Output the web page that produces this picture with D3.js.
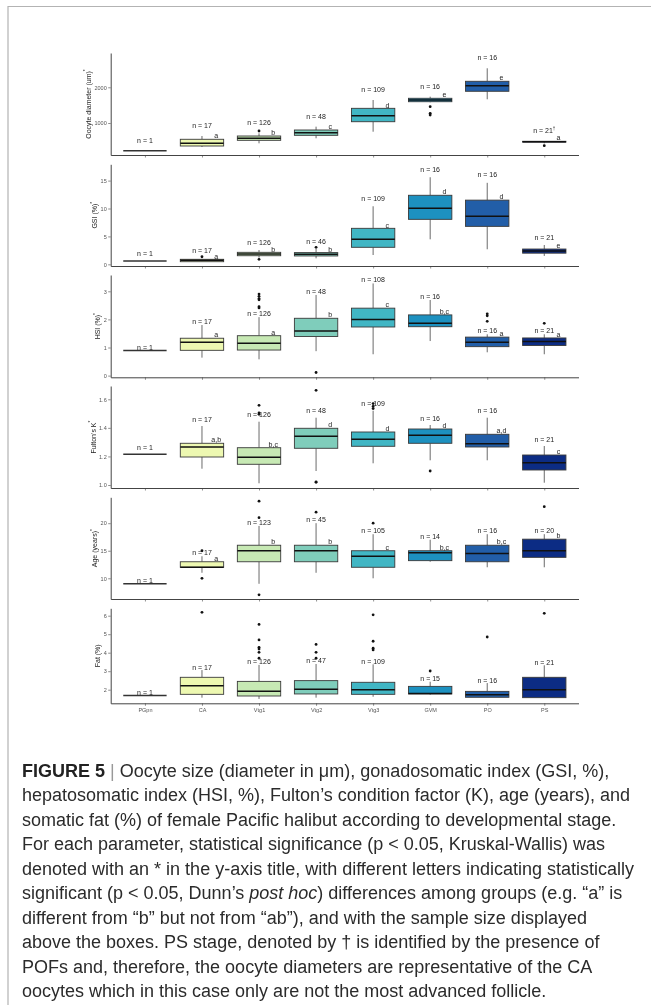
<!DOCTYPE html>
<html>
<head>
<meta charset="utf-8">
<script src="https://cdn.jsdelivr.net/npm/d3@7"></script>
<style>
  body { margin: 0; background: #fff; }
  svg { display: block; font-family: "Liberation Sans", Arial, sans-serif; will-change: transform; }
</style>
</head>
<body>
<svg id="fig" width="651" height="1005"></svg>
<script>
// stages and fill colours (YlGnBu-like)
const stages = ["PGpn", "CA", "Vtg1", "Vtg2", "Vtg3", "GVM", "PO", "PS"];
const fills = ["#FFFFD9", "#EDF8B1", "#C7E9B4", "#7FCDBB", "#41B6C4", "#1D91C0", "#225EA8", "#0C2C84"];

// each box: [lower whisker, Q1, median, Q3, upper whisker]
const oocyteStats = [[224,224,224,224,224],[328,356,432,544,636],[431,515,572,636,711],[572,655,728,804,897],
  [756,1036,1204,1411,1644],[1580,1596,1644,1692,1737],[1664,1888,2044,2168,2532],[430,465,476,488,495]];
const oocyteOut = [[],[],[776],[],[],[1456,1270,1224],[],[364]];
const oocyteN = [1, 17, 126, 48, 109, 16, 16, 21];
const oocyteLetters = ["", "a", "b", "c", "d", "e", "e", "a"];

const gsiStats = [[0.59,0.59,0.59,0.59,0.59],[0.42,0.47,0.72,0.9,0.98],[1.2,1.54,1.85,2.15,2.56],[1.07,1.5,1.8,2.1,2.74],
  [1.67,3.05,4.48,6.45,10.4],[4.48,8.06,10.04,12.37,15.6],[2.7,6.8,8.6,11.5,14.6],[1.5,2.0,2.38,2.74,3.46]];
const gsiOut = [[],[1.36],[0.9],[3.05],[],[],[],[]];
const gsiN = [1, 17, 126, 46, 109, 16, 16, 21];
const gsiLetters = ["", "a", "b", "b", "c", "d", "d", "e"];

const hsiStats = [[0.89,0.89,0.89,0.89,0.89],[0.64,0.90,1.19,1.33,1.80],[0.58,0.91,1.15,1.42,2.08],[0.87,1.39,1.59,2.04,2.87],
  [0.76,1.73,2.0,2.40,3.28],[1.23,1.74,1.86,2.16,2.69],[0.83,1.03,1.19,1.37,1.47],[0.76,1.07,1.21,1.34,1.47]];
const hsiOut = [[],[],[2.90,2.82,2.74,2.70,2.45,2.41],[0.11],[],[],[2.20,2.13,1.93],[1.86]];
const hsiN = [1, 17, 126, 48, 108, 16, 16, 21];
const hsiLetters = ["", "a", "a", "b", "c", "b,c", "a", "a"];

const kStats = [[1.215,1.215,1.215,1.215,1.215],[1.114,1.196,1.266,1.292,1.413],[1.012,1.145,1.194,1.261,1.443],[1.098,1.257,1.341,1.397,1.471],
  [1.152,1.271,1.320,1.371,1.52],[1.173,1.292,1.348,1.392,1.42],[1.173,1.266,1.289,1.355,1.471],[1.016,1.105,1.156,1.21,1.273]];
const kOut = [[],[],[1.558,1.504,1.495],[1.663,1.019,1.022],[1.535,1.55,1.57],[1.098],[],[]];
const kN = [1, 17, 126, 48, 109, 16, 16, 21];
const kLetters = ["", "a,b", "b,c", "d", "d", "d", "a,d", "c"];

const ageStats = [[9,9,9,9,9],[11,12,12,13,14],[9,13,15,16,19.5],[11,13,15,16,20],
  [10,12,14,15,18],[13,13.2,14.65,15,17],[12,13,14.5,16,18],[12,13.8,15,17.1,18]];
const ageOut = [[],[15,10],[21,24,7],[22],[20],[],[],[23]];
const ageN = [1, 17, 123, 45, 105, 14, 16, 20];
const ageLetters = ["", "a", "b", "b", "c", "b,c", "b,c", "b"];

const fatStats = [[1.68,1.68,1.68,1.68,1.68],[1.57,1.75,2.22,2.67,3.06],[1.5,1.66,1.91,2.45,3.34],[1.57,1.77,2.02,2.49,3.39],
  [1.62,1.75,2.0,2.40,3.37],[1.73,1.77,1.8,2.18,2.43],[1.59,1.59,1.73,1.91,2.36],[1.57,1.57,2.0,2.67,3.32]];
const fatOut = [[],[6.18],[5.53,4.69,4.29,4.2,4.02,3.70],[4.45,4.02,3.70],[6.05,4.62,4.24,4.15],[3.01],[4.85],[6.13]];
const fatN = [1, 17, 126, 47, 109, 15, 16, 21];
const fatLetters = ["", "", "", "", "", "", "", ""];

const captionLines = [
  "Oocyte size (diameter in \u03bcm), gonadosomatic index (GSI, %),",
  "hepatosomatic index (HSI, %), Fulton\u2019s condition factor (K), age (years), and",
  "somatic fat (%) of female Pacific halibut according to developmental stage.",
  "For each parameter, statistical significance (p < 0.05, Kruskal-Wallis) was",
  "denoted with an * in the y-axis title, with different letters indicating statistically",
  "significant (p < 0.05, Dunn\u2019s |post hoc|) differences among groups (e.g. \u201ca\u201d is",
  "different from \u201cb\u201d but not from \u201cab\u201d), and with the sample size displayed",
  "above the boxes. PS stage, denoted by \u2020 is identified by the presence of",
  "POFs and, therefore, the oocyte diameters are representative of the CA",
  "oocytes which in this case only are not the most advanced follicle."
];

// panel layout table built from the arrays above
const panels = [
  { title: "Oocyte diameter (um)", star: true, stats: oocyteStats, out: oocyteOut, n: oocyteN, letters: oocyteLetters,
    domain: [104, 2960], ticks: [1000, 2000], fmt: d3.format("d"), top: 53, bottom: 155, nOff: 10.5, dagger: true },
  { title: "GSI (%)", star: true, stats: gsiStats, out: gsiOut, n: gsiN, letters: gsiLetters,
    domain: [-0.3, 17.92], ticks: [0, 5, 10, 15], fmt: d3.format("d"), top: 164.3, bottom: 266, nOff: 8 },
  { title: "HSI (%)", star: true, stats: hsiStats, out: hsiOut, n: hsiN, letters: hsiLetters,
    domain: [-0.06, 3.58], ticks: [0, 1, 2, 3], fmt: d3.format("d"), top: 275, bottom: 377.3, nOff: 3.6 },
  { title: "Fulton\u2019s K", star: true, stats: kStats, out: kOut, n: kN, letters: kLetters,
    domain: [0.979, 1.693], ticks: [1.0, 1.2, 1.4, 1.6], fmt: d3.format(".1f"), top: 386, bottom: 488, nOff: 7 },
  { title: "Age (years)", star: true, stats: ageStats, out: ageOut, n: ageN, letters: ageLetters,
    domain: [6.24, 24.7], ticks: [10, 15, 20], fmt: d3.format("d"), top: 497.3, bottom: 599, nOff: 3.4 },
  { title: "Fat (%)", star: false, stats: fatStats, out: fatOut, n: fatN, letters: fatLetters,
    domain: [1.265, 6.4], ticks: [2, 3, 4, 5, 6], fmt: d3.format("d"), top: 608.3, bottom: 703.3, nOff: 3, xLabels: true }
];

const svg = d3.select("#fig");

// page frame
svg.append("line").attr("x1", 8).attr("x2", 651).attr("y1", 6.5).attr("y2", 6.5)
  .attr("stroke", "#b3b3b3").attr("stroke-width", 1.2);
svg.append("line").attr("x1", 8).attr("x2", 8).attr("y1", 6).attr("y2", 1005)
  .attr("stroke", "#b3b3b3").attr("stroke-width", 1.2);

const x = d3.scalePoint().domain(stages).range([110.7, 578.5]).padding(0.6);
const boxW = x.step() * 0.76;

panels.forEach((p) => {
  const y = d3.scaleLinear().domain(p.domain).range([p.bottom, p.top]);
  const g = svg.append("g");

  // y axis
  const ya = g.append("g").attr("transform", "translate(110.7,0)")
    .call(d3.axisLeft(y).tickValues(p.ticks).tickFormat(p.fmt).tickSize(2.5).tickSizeOuter(0).tickPadding(1.5));
  ya.select(".domain").attr("stroke", "#444").attr("stroke-width", 1);
  ya.selectAll(".tick line").attr("stroke", "#444").attr("stroke-width", 0.6);
  ya.selectAll(".tick text").attr("fill", "#555").style("font-size", "5.5px").style("font-family", "Liberation Sans, Arial, sans-serif");

  // x axis
  const xa = g.append("g").attr("transform", `translate(0,${p.bottom})`)
    .call(d3.axisBottom(x).tickSize(2.5).tickSizeOuter(0).tickPadding(2.5));
  xa.select(".domain").attr("stroke", "#444").attr("stroke-width", 1);
  xa.selectAll(".tick line").attr("stroke", "#444").attr("stroke-width", 0.6);
  xa.selectAll(".tick text").attr("fill", "#555").style("font-size", "5.5px").style("font-family", "Liberation Sans, Arial, sans-serif")
    .text((d) => (p.xLabels ? d : ""));

  // y title, placed left of the widest tick label
  let maxW = 0;
  ya.selectAll(".tick text").each(function () { maxW = Math.max(maxW, this.getComputedTextLength()); });
  const tx = 110.7 - 4 - maxW - 6;
  const ty = (p.top + p.bottom) / 2;
  const title = g.append("text").attr("transform", `translate(${tx},${ty}) rotate(-90)`)
    .attr("text-anchor", "middle").attr("dominant-baseline", "central")
    .attr("fill", "#222").style("font-size", "7px").text(p.title);
  if (p.star) title.append("tspan").attr("baseline-shift", "super").style("font-size", "5px").text("*");

  const boxes = g.append("g").selectAll("g").data(p.stats).join("g")
    .attr("transform", (d, i) => `translate(${x(stages[i])},0)`);

  // whiskers
  boxes.append("line").attr("y1", (d) => y(d[0])).attr("y2", (d) => y(d[1]))
    .attr("stroke", "#444").attr("stroke-width", 0.8);
  boxes.append("line").attr("y1", (d) => y(d[3])).attr("y2", (d) => y(d[4]))
    .attr("stroke", "#444").attr("stroke-width", 0.8);

  // box
  boxes.append("rect").attr("x", -boxW / 2).attr("width", boxW)
    .attr("y", (d) => y(d[3])).attr("height", (d) => y(d[1]) - y(d[3]))
    .attr("fill", (d, i) => fills[i]).attr("stroke", "#3a3a3a").attr("stroke-width", 0.9);

  // median
  boxes.append("line").attr("x1", -boxW / 2).attr("x2", boxW / 2)
    .attr("y1", (d) => y(d[2])).attr("y2", (d) => y(d[2]))
    .attr("stroke", (d, i) => (i === 0 ? "#333" : "#111")).attr("stroke-width", 1.5);

  // outliers
  boxes.each(function (d, i) {
    d3.select(this).selectAll("circle").data(p.out[i]).join("circle")
      .attr("cy", (v) => y(v)).attr("r", 1.4).attr("fill", "#111");
  });

  // sample size labels
  const nl = boxes.append("text").attr("y", (d) => y(d[4]) - p.nOff)
    .attr("text-anchor", "middle").attr("dominant-baseline", "central")
    .attr("fill", "#222").style("font-size", "7px")
    .text((d, i) => "n = " + p.n[i]);
  if (p.dagger) {
    nl.filter((d, i) => i === stages.length - 1)
      .append("tspan").attr("baseline-shift", "super").style("font-size", "4.5px").text("\u2020");
  }

  // significance letters
  boxes.append("text").attr("x", x.step() * 0.25).attr("y", (d) => y(d[3]) - 3.3)
    .attr("text-anchor", "middle").attr("dominant-baseline", "central")
    .attr("fill", "#222").style("font-size", "7px")
    .text((d, i) => p.letters[i]);
});

// caption
const cap = svg.append("g").style("font-size", "18px").attr("fill", "#2b2b2b");
captionLines.forEach((line, i) => {
  const t = cap.append("text").attr("x", 22).attr("y", 777 + i * 24.45);
  if (i === 0) {
    t.append("tspan").style("font-weight", "bold").attr("fill", "#222").text("FIGURE 5");
    t.append("tspan").attr("fill", "#999").text(" | ");
  }
  line.split("|").forEach((part, j) => {
    t.append("tspan").style("font-style", j % 2 ? "italic" : "normal").text(part);
  });
});
</script>
</body>
</html>
